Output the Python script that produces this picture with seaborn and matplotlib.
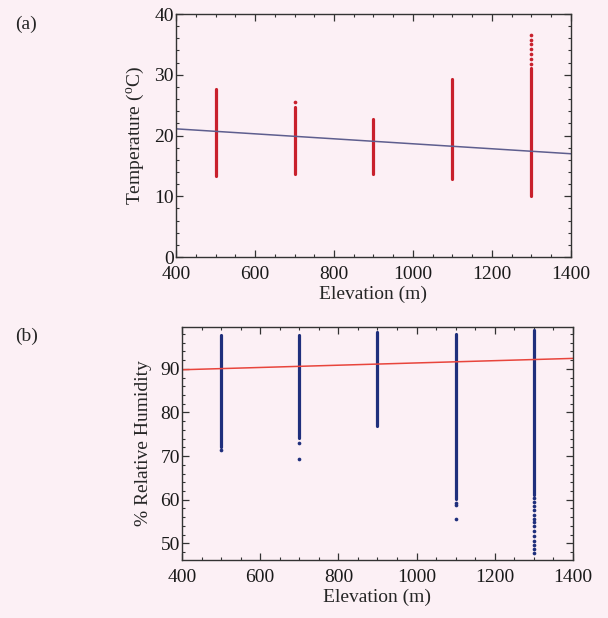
import numpy as np
import pandas as pd
import matplotlib
matplotlib.use("Agg")
import matplotlib.pyplot as plt
from matplotlib.ticker import MultipleLocator
import seaborn as sns

# Station elevations (m)
elevation = [500, 700, 900, 1100, 1300]

# Temperature range recorded at each station (deg C)
temp_low = [13.3, 13.7, 13.7, 12.8, 10.1]
temp_high = [27.6, 24.7, 22.7, 29.3, 31.1]
# isolated temperature readings above the dense range
temp_dot_elev = [700, 1300, 1300, 1300, 1300, 1300, 1300, 1300]
temp_dot_val = [25.6, 31.8, 32.6, 33.4, 34.2, 35.0, 35.8, 36.5]
# linear fit of temperature against elevation
fit_elev = [400, 1400]
fit_temp = [21.1, 17.0]

# Relative humidity range recorded at each station (%)
rh_low = [72.0, 74.2, 76.8, 60.2, 61.2]
rh_high = [97.7, 97.8, 98.5, 98.1, 98.8]
# isolated humidity readings below the dense range
rh_dot_elev = [500, 700, 700, 1100, 1100, 1100,
               1300, 1300, 1300, 1300, 1300, 1300, 1300, 1300,
               1300, 1300, 1300, 1300, 1300, 1300]
rh_dot_val = [71.3, 73.1, 69.3, 59.3, 58.7, 55.7,
              60.3, 59.4, 58.5, 57.6, 56.6, 55.7, 54.8, 53.9,
              52.8, 51.6, 50.6, 49.6, 48.6, 47.7]
# linear fit of humidity against elevation
fit_rh = [89.8, 92.4]

bg = "#fcf0f5"
sns.set_theme(style="ticks", rc={"figure.facecolor": bg, "axes.facecolor": bg})
plt.rcParams["font.family"] = ["Liberation Serif", "DejaVu Serif"]
plt.rcParams["mathtext.fontset"] = "custom"
plt.rcParams["mathtext.rm"] = "Liberation Serif"
plt.rcParams["mathtext.it"] = "Liberation Serif:italic"

fig = plt.figure(figsize=(6.08, 6.18), dpi=100)
ax1 = fig.add_axes([0.2895, 0.5841, 0.9391 - 0.2895, 0.9773 - 0.5841])
ax2 = fig.add_axes([0.2993, 0.0939, 0.9424 - 0.2993, 0.4709 - 0.0939])


def ranges_frame(low, high):
    return pd.DataFrame({
        "elev": elevation + elevation,
        "val": low + high,
    })


def style_axes(ax):
    for s in ax.spines.values():
        s.set_color("#333333")
        s.set_linewidth(1.0)
    ax.tick_params(which="both", direction="in", top=True, right=True,
                   colors="#333333", labelcolor="#1a1a1a", labelsize=14)
    ax.tick_params(which="major", length=5, width=0.9)
    ax.tick_params(which="minor", length=2.5, width=0.8)
    ax.tick_params(axis="x", pad=6.5)
    ax.tick_params(axis="y", pad=1.5)
    ax.xaxis.set_major_locator(MultipleLocator(200))
    ax.xaxis.set_minor_locator(MultipleLocator(50))
    ax.set_xlim(400, 1400)


# (a) temperature
red = "#c8202c"
sns.lineplot(data=ranges_frame(temp_low, temp_high), x="elev", y="val",
             units="elev", estimator=None, color=red, lw=2.3, ax=ax1)
sns.scatterplot(x=temp_dot_elev, y=temp_dot_val, color=red, s=7,
                linewidth=0, ax=ax1)
sns.lineplot(x=fit_elev, y=fit_temp, color="#5e5e8e", lw=1.1, ax=ax1)
style_axes(ax1)
ax1.set_ylim(0, 40)
ax1.yaxis.set_major_locator(MultipleLocator(10))
ax1.yaxis.set_minor_locator(MultipleLocator(2))
ax1.set_xlabel("Elevation (m)", fontsize=14, labelpad=2)
ax1.set_ylabel(r"Temperature ($^{\mathrm{o}}$C)", fontsize=14, labelpad=6)

# (b) relative humidity
blue = "#1f2f7c"
sns.lineplot(data=ranges_frame(rh_low, rh_high), x="elev", y="val",
             units="elev", estimator=None, color=blue, lw=2.3, ax=ax2)
sns.scatterplot(x=rh_dot_elev, y=rh_dot_val, color=blue, s=7,
                linewidth=0, ax=ax2)
sns.lineplot(x=fit_elev, y=fit_rh, color="#e8453c", lw=1.1, ax=ax2)
style_axes(ax2)
ax2.set_ylim(46.2, 99.6)
ax2.yaxis.set_major_locator(MultipleLocator(10))
ax2.yaxis.set_minor_locator(MultipleLocator(2))
ax2.set_yticks([50, 60, 70, 80, 90])
ax2.set_xlabel("Elevation (m)", fontsize=14, labelpad=2)
ax2.set_ylabel("% Relative Humidity", fontsize=14, labelpad=6)

fig.text(0.025, 0.975, "(a)", fontsize=14, ha="left", va="top")
fig.text(0.025, 0.47, "(b)", fontsize=14, ha="left", va="top")

fig.savefig("out.png", dpi=100, facecolor=bg)
